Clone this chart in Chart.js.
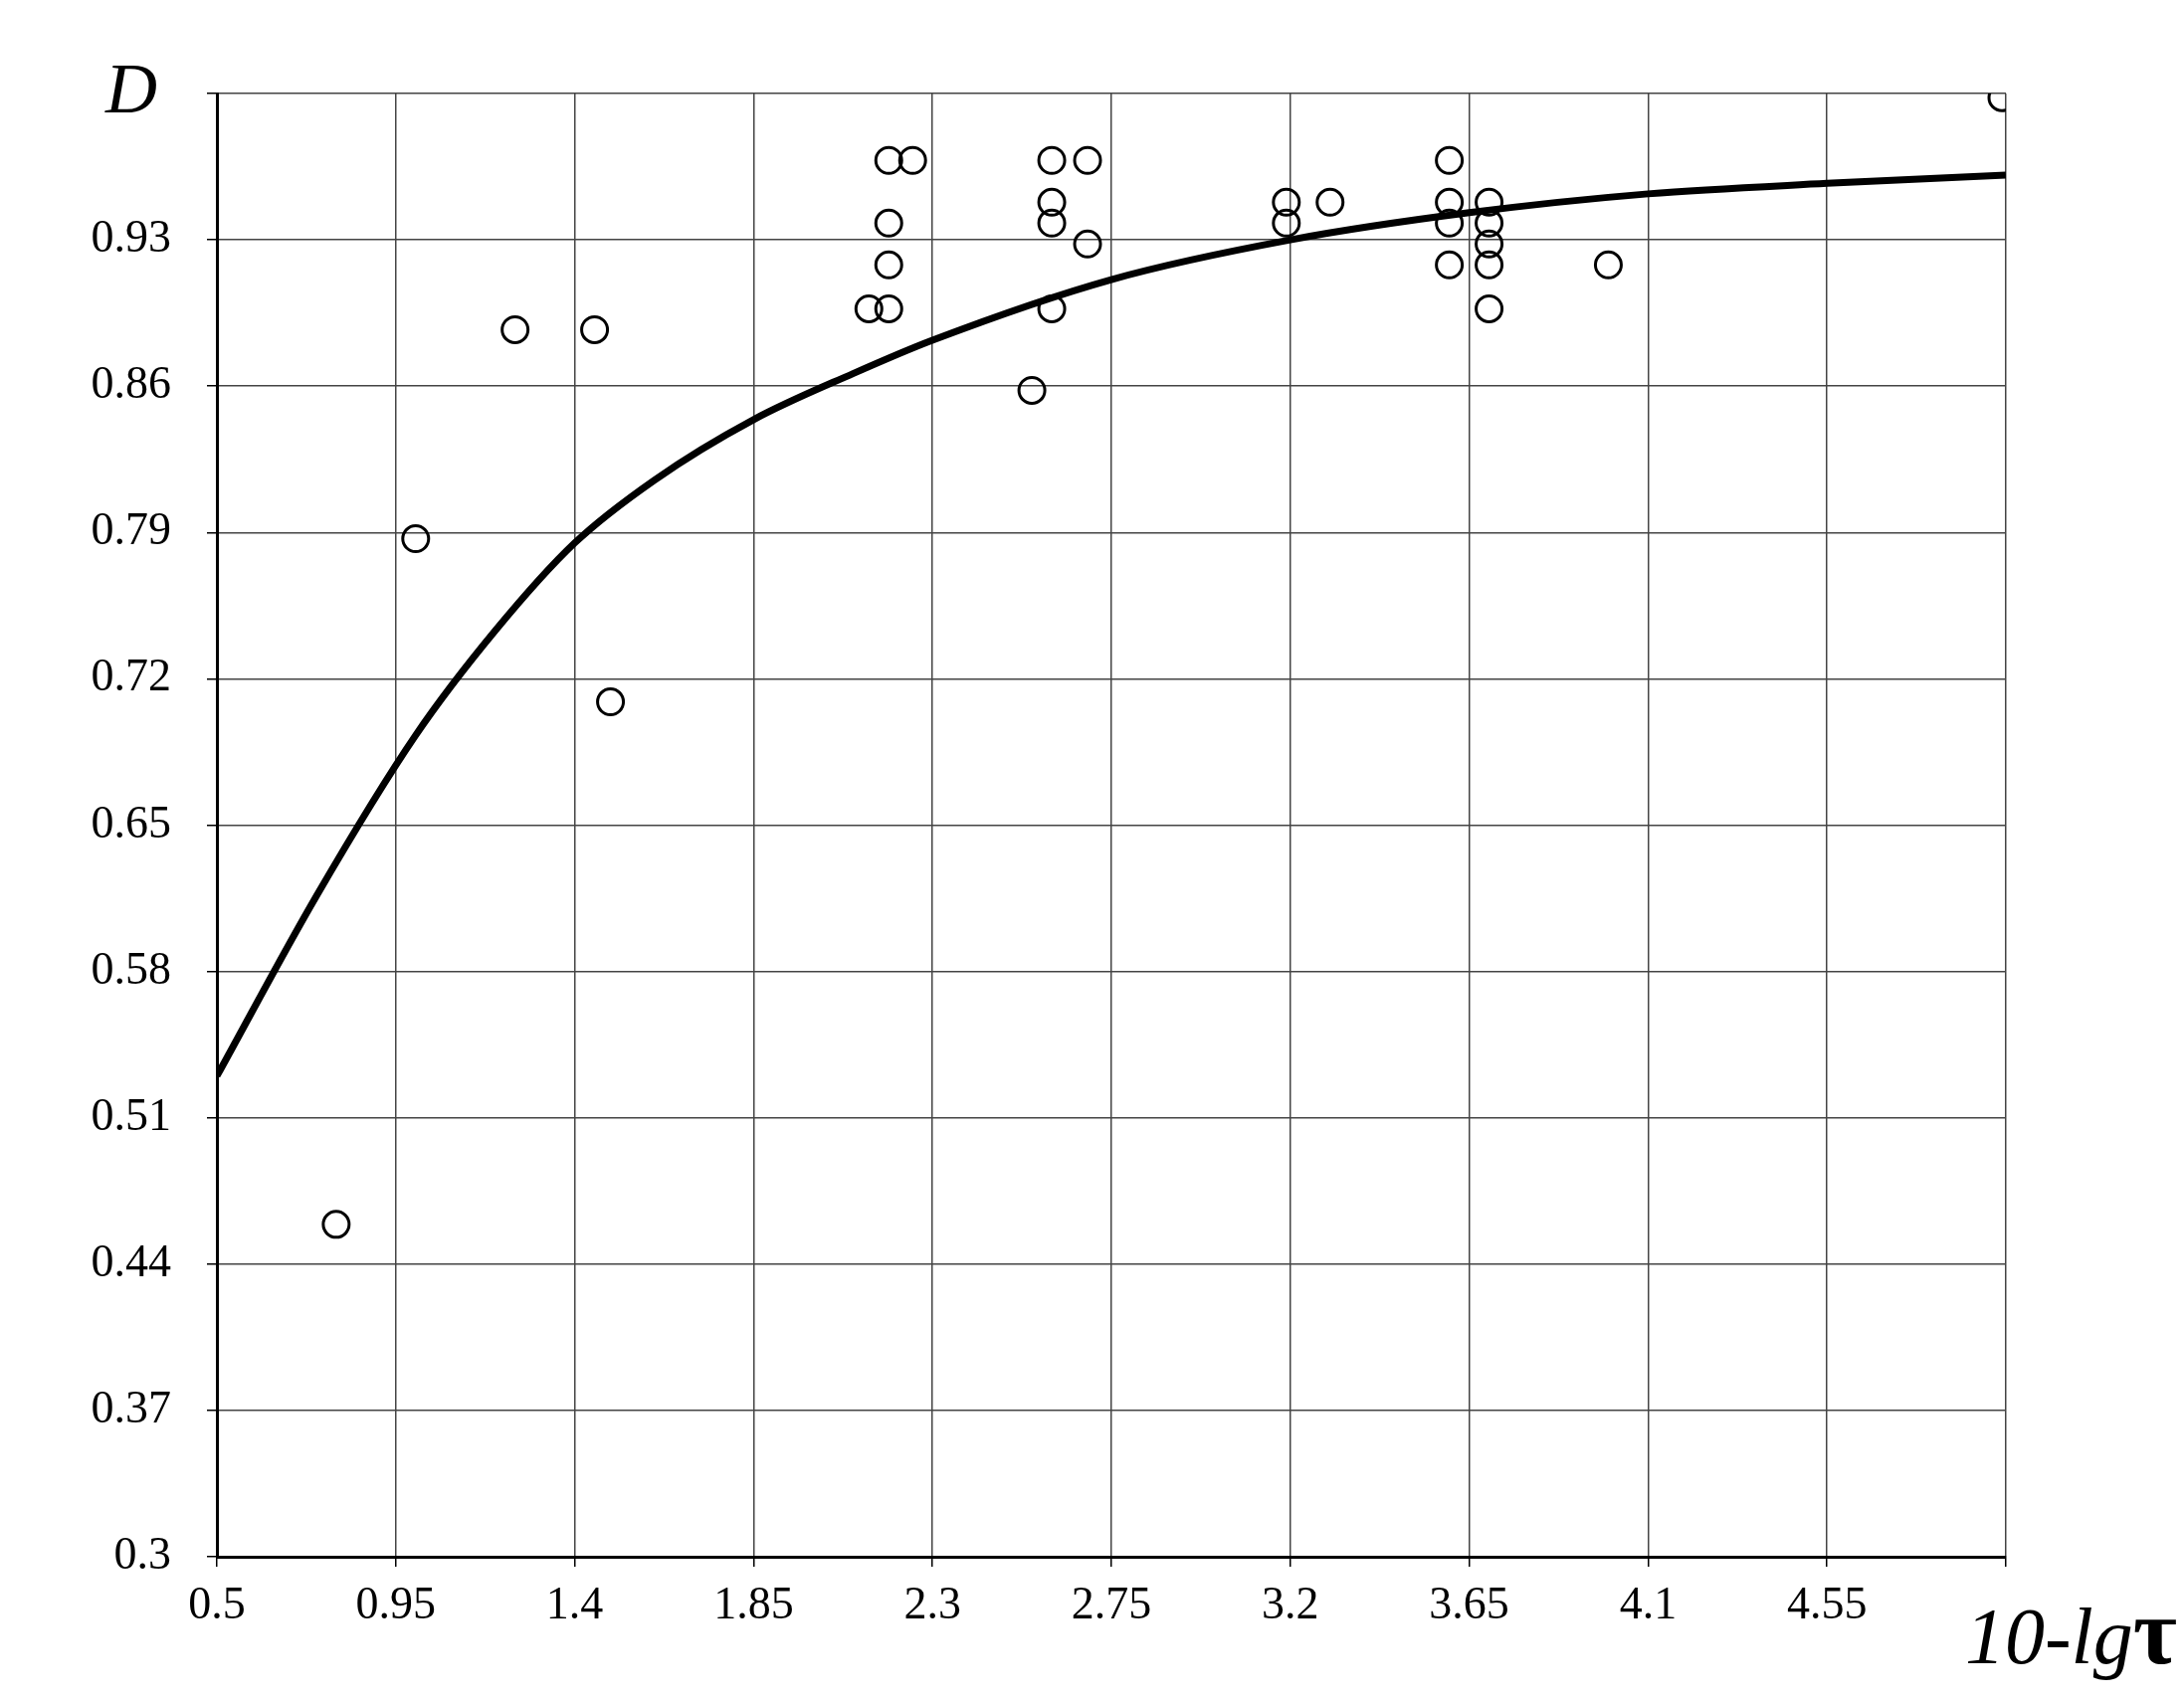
<!DOCTYPE html>
<html>
<head>
<meta charset="utf-8">
<script src="https://cdn.jsdelivr.net/npm/chart.js@4/dist/chart.umd.min.js"></script>
<style>
  html, body { margin: 0; padding: 0; background: #fff; }
  #wrap { width: 2195px; height: 1710px; }
</style>
</head>
<body>
<div id="wrap"><canvas id="c" width="2195" height="1710"></canvas></div>
<script>
// measured points (10-lg tau, D)
let pointX = [0.80, 1.00, 1.25, 1.45, 1.49, 2.14, 2.19, 2.19, 2.19, 2.19, 2.25, 2.55, 2.60, 2.60, 2.60, 2.60, 2.69, 2.69, 3.19, 3.19, 3.30, 3.60, 3.60, 3.60, 3.60, 3.70, 3.70, 3.70, 3.70, 3.70, 4.00, 4.99];
let pointY = [0.459, 0.787, 0.887, 0.887, 0.709, 0.897, 0.897, 0.918, 0.938, 0.968, 0.968, 0.858, 0.897, 0.938, 0.948, 0.968, 0.968, 0.928, 0.948, 0.938, 0.948, 0.968, 0.948, 0.938, 0.918, 0.948, 0.938, 0.928, 0.918, 0.897, 0.918, 0.998];

// fitted curve
let curveX = [0.5, 0.75, 1.0, 1.2, 1.4, 1.6, 1.85, 2.1, 2.3, 2.75, 3.2, 3.65, 4.1, 4.55, 5.0];
let curveY = [0.530, 0.616, 0.693, 0.743, 0.785, 0.815, 0.844, 0.866, 0.882, 0.911, 0.930, 0.943, 0.952, 0.957, 0.961];

let xTicks = [0.5, 0.95, 1.4, 1.85, 2.3, 2.75, 3.2, 3.65, 4.1, 4.55, 5.0];
let yTicks = [0.3, 0.37, 0.44, 0.51, 0.58, 0.65, 0.72, 0.79, 0.86, 0.93, 1.0];

let points = [];
for (let i = 0; i < pointX.length; i++) {
  points.push({ x: pointX[i], y: pointY[i] });
}
let curve = [];
for (let i = 0; i < curveX.length; i++) {
  curve.push({ x: curveX[i], y: curveY[i] });
}

const fontFam = '"Liberation Serif", "DejaVu Serif", serif';

// axis titles drawn next to the last ticks
const titles = {
  id: 'titles',
  afterDraw(chart) {
    const ctx = chart.ctx;
    const a = chart.chartArea;
    ctx.save();
    ctx.fillStyle = '#000';
    ctx.font = 'italic 72px ' + fontFam;
    ctx.textAlign = 'center';
    ctx.textBaseline = 'middle';
    ctx.fillText('D', 132, a.top);
    ctx.textAlign = 'right';
    ctx.textBaseline = 'alphabetic';
    ctx.font = 'bold 96px ' + fontFam;
    let wTau = ctx.measureText('τ').width;
    ctx.fillText('τ', 2188, 1672);
    ctx.font = 'italic 80px ' + fontFam;
    ctx.fillText('10-lg', 2188 - wTau, 1672);
    ctx.restore();
  }
};

let ctx = document.getElementById('c').getContext('2d');
let myChart = new Chart(ctx, {
  type: 'scatter',
  data: {
    datasets: [
      {
        label: 'points',
        data: points,
        pointStyle: 'circle',
        pointRadius: 13,
        pointBorderWidth: 3,
        pointBorderColor: '#000',
        pointBackgroundColor: 'rgba(0,0,0,0)',
        showLine: false
      },
      {
        label: 'curve',
        data: curve,
        showLine: true,
        borderColor: '#000',
        borderWidth: 7,
        pointRadius: 0,
        cubicInterpolationMode: 'monotone'
      }
    ]
  },
  plugins: [titles],
  options: {
    responsive: false,
    animation: false,
    layout: { padding: { top: 94, right: 179, left: 0, bottom: 0 } },
    plugins: { legend: { display: false }, tooltip: { enabled: false } },
    scales: {
      x: {
        type: 'linear',
        min: 0.5,
        max: 5.0,
        afterBuildTicks: function (axis) { axis.ticks = xTicks.map(v => ({ value: v })); },
        afterFit: function (axis) { axis.height = 145; },
        ticks: {
          color: '#000',
          font: { family: fontFam, size: 46 },
          padding: 12,
          maxRotation: 0,
          autoSkip: false,
          callback: function (v) { return v === 5.0 ? '' : parseFloat(v.toFixed(2)); }
        },
        grid: { color: '#444', lineWidth: 1.5, tickLength: 10, tickColor: '#000' },
        border: { color: '#000', width: 3 }
      },
      y: {
        type: 'linear',
        min: 0.3,
        max: 1.0,
        afterBuildTicks: function (axis) { axis.ticks = yTicks.map(v => ({ value: v })); },
        afterFit: function (axis) { axis.width = 218; },
        ticks: {
          color: '#000',
          font: { family: fontFam, size: 46 },
          padding: 36,
          autoSkip: false,
          callback: function (v) { return v === 1.0 ? '' : parseFloat(v.toFixed(2)); }
        },
        grid: { color: '#444', lineWidth: 1.5, tickLength: 10, tickColor: '#000' },
        border: { color: '#000', width: 3 }
      }
    }
  }
});
</script>
</body>
</html>
